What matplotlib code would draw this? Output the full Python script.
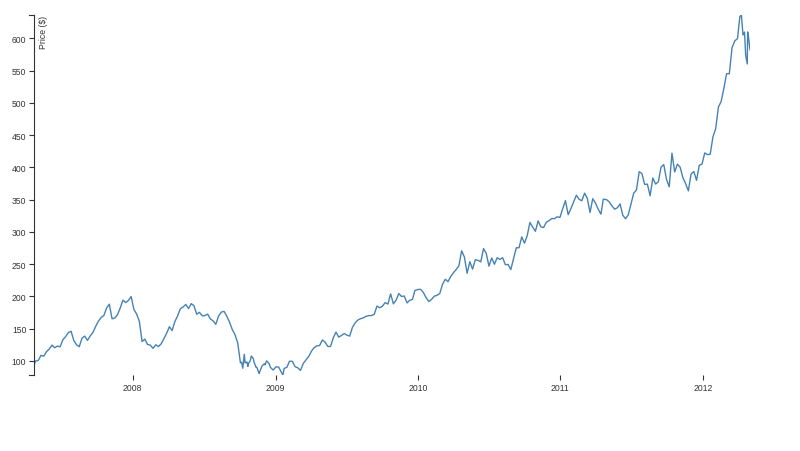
import matplotlib
matplotlib.use("Agg")
import matplotlib.pyplot as plt
import matplotlib.dates as mdates
import pandas as pd

plt.rcParams['font.family'] = ['Liberation Sans', 'DejaVu Sans']

# weekly closes (AAPL, Apr 2007 - May 2012)
dates = [
    "2007-04-23", "2007-04-27", "2007-05-04", "2007-05-11", "2007-05-18", "2007-05-25",
    "2007-06-01", "2007-06-08", "2007-06-15", "2007-06-22", "2007-06-29",
    "2007-07-06", "2007-07-13", "2007-07-20", "2007-07-27",
    "2007-08-03", "2007-08-10", "2007-08-17", "2007-08-24", "2007-08-31",
    "2007-09-07", "2007-09-14", "2007-09-21", "2007-09-28",
    "2007-10-05", "2007-10-12", "2007-10-19", "2007-10-26",
    "2007-11-02", "2007-11-09", "2007-11-16", "2007-11-23", "2007-11-30",
    "2007-12-07", "2007-12-14", "2007-12-21", "2007-12-28",
    "2008-01-04", "2008-01-11", "2008-01-18", "2008-01-23", "2008-01-25",
    "2008-02-01", "2008-02-08", "2008-02-15", "2008-02-22", "2008-02-29",
    "2008-03-07", "2008-03-14", "2008-03-20", "2008-03-28",
    "2008-04-04", "2008-04-11", "2008-04-18", "2008-04-25",
    "2008-05-02", "2008-05-09", "2008-05-16", "2008-05-23", "2008-05-30",
    "2008-06-06", "2008-06-13", "2008-06-20", "2008-06-27",
    "2008-07-03", "2008-07-11", "2008-07-18", "2008-07-25",
    "2008-08-01", "2008-08-08", "2008-08-15", "2008-08-22", "2008-08-29",
    "2008-09-05", "2008-09-12", "2008-09-19", "2008-09-26",
    "2008-10-03", "2008-10-06", "2008-10-09", "2008-10-13", "2008-10-15",
    "2008-10-17", "2008-10-20", "2008-10-22", "2008-10-24", "2008-10-28", "2008-10-31",
    "2008-11-05", "2008-11-07", "2008-11-12", "2008-11-14", "2008-11-20", "2008-11-21",
    "2008-11-28",
    "2008-12-03", "2008-12-05", "2008-12-09", "2008-12-12", "2008-12-16", "2008-12-19",
    "2008-12-26",
    "2009-01-02", "2009-01-09", "2009-01-16", "2009-01-20", "2009-01-23", "2009-01-30",
    "2009-02-06", "2009-02-13", "2009-02-20", "2009-02-27",
    "2009-03-06", "2009-03-13", "2009-03-20", "2009-03-27",
    "2009-04-03", "2009-04-09", "2009-04-17", "2009-04-24",
    "2009-05-01", "2009-05-08", "2009-05-15", "2009-05-22", "2009-05-29",
    "2009-06-05", "2009-06-12", "2009-06-19", "2009-06-26",
    "2009-07-03", "2009-07-10", "2009-07-17", "2009-07-24", "2009-07-31",
    "2009-08-07", "2009-08-14", "2009-08-21", "2009-08-28",
    "2009-09-04", "2009-09-11", "2009-09-18", "2009-09-25",
    "2009-10-02", "2009-10-09", "2009-10-16", "2009-10-23", "2009-10-30",
    "2009-11-06", "2009-11-13", "2009-11-20", "2009-11-27",
    "2009-12-04", "2009-12-11", "2009-12-18", "2009-12-24", "2009-12-31",
    "2010-01-08", "2010-01-15", "2010-01-22", "2010-01-29",
    "2010-02-05", "2010-02-12", "2010-02-19", "2010-02-26",
    "2010-03-05", "2010-03-12", "2010-03-19", "2010-03-26",
    "2010-04-01", "2010-04-09", "2010-04-16", "2010-04-23", "2010-04-30",
    "2010-05-07", "2010-05-14", "2010-05-21", "2010-05-28",
    "2010-06-04", "2010-06-11", "2010-06-18", "2010-06-25",
    "2010-07-02", "2010-07-09", "2010-07-16", "2010-07-23", "2010-07-30",
    "2010-08-06", "2010-08-13", "2010-08-20", "2010-08-27",
    "2010-09-03", "2010-09-10", "2010-09-17", "2010-09-24",
    "2010-10-01", "2010-10-08", "2010-10-15", "2010-10-22", "2010-10-29",
    "2010-11-05", "2010-11-12", "2010-11-19", "2010-11-26",
    "2010-12-03", "2010-12-10", "2010-12-17", "2010-12-23", "2010-12-31",
    "2011-01-07", "2011-01-14", "2011-01-21", "2011-01-28",
    "2011-02-04", "2011-02-11", "2011-02-18", "2011-02-25",
    "2011-03-04", "2011-03-11", "2011-03-18", "2011-03-25",
    "2011-04-01", "2011-04-08", "2011-04-15", "2011-04-21", "2011-04-29",
    "2011-05-06", "2011-05-13", "2011-05-20", "2011-05-27",
    "2011-06-03", "2011-06-10", "2011-06-17", "2011-06-24",
    "2011-07-01", "2011-07-08", "2011-07-15", "2011-07-22", "2011-07-29",
    "2011-08-05", "2011-08-12", "2011-08-19", "2011-08-26",
    "2011-09-02", "2011-09-09", "2011-09-16", "2011-09-23", "2011-09-30",
    "2011-10-07", "2011-10-14", "2011-10-21", "2011-10-28",
    "2011-11-04", "2011-11-11", "2011-11-18", "2011-11-25",
    "2011-12-02", "2011-12-09", "2011-12-16", "2011-12-23", "2011-12-30",
    "2012-01-06", "2012-01-13", "2012-01-20", "2012-01-27",
    "2012-02-03", "2012-02-10", "2012-02-17", "2012-02-24",
    "2012-03-02", "2012-03-09", "2012-03-16", "2012-03-23", "2012-03-30",
    "2012-04-05", "2012-04-09", "2012-04-10", "2012-04-13", "2012-04-17",
    "2012-04-20", "2012-04-24", "2012-04-25", "2012-04-27", "2012-05-01",
]
close = [
    93.2, 99.9, 100.8, 108.7, 107.3, 114.4,
    118.4, 124.5, 120.5, 123.0, 122.0,
    132.8, 137.7, 143.8, 146.0,
    131.8, 125.0, 122.1, 135.3, 138.5,
    131.8, 138.8, 144.2, 153.5,
    161.5, 167.3, 170.4, 182.0,
    187.9, 165.4, 166.4, 171.5, 182.2,
    194.3, 190.4, 193.9, 199.8,
    180.0, 172.7, 161.4, 139.1, 130.0,
    133.8, 125.5, 124.6, 119.5, 125.0,
    122.3, 126.6, 133.3, 143.0,
    153.1, 147.1, 161.0, 169.7,
    180.9, 183.5, 187.6, 181.2, 188.8,
    185.6, 172.4, 175.3, 170.1,
    170.1, 172.6, 165.2, 162.1,
    156.7, 169.6, 175.7, 176.8, 169.5,
    160.2, 148.9, 140.9, 128.2,
    97.1, 98.1, 88.7, 110.3, 97.0,
    97.4, 98.4, 91.5, 96.4, 99.9, 107.6,
    103.7, 98.2, 90.1, 90.2, 80.5, 82.6,
    92.7,
    95.4, 94.0, 100.1, 98.3, 95.4, 90.0,
    85.8,
    90.8, 90.6, 82.3, 78.2, 88.4, 90.1,
    99.7, 99.3, 91.2, 89.3,
    85.3, 95.9, 101.6, 106.9,
    115.0, 120.0, 123.4, 123.9,
    132.5, 129.2, 122.4, 122.5, 135.8,
    144.7, 136.9, 139.5, 142.4,
    140.0, 138.5, 151.8, 159.0, 163.4,
    165.5, 166.8, 169.2, 170.3,
    170.3, 172.2, 185.0, 182.4,
    184.9, 190.5, 188.1, 204.0, 188.5,
    194.3, 204.5, 199.9, 200.6,
    189.9, 194.0, 195.4, 209.0, 210.7,
    211.0, 205.9, 197.8, 192.1,
    195.5, 200.4, 201.7, 204.6,
    218.9, 226.6, 222.8, 230.9,
    236.0, 241.8, 247.4, 270.8, 261.1,
    235.9, 253.8, 242.3, 256.9,
    255.9, 253.5, 274.1, 266.7,
    246.9, 259.6, 249.9, 259.9, 257.3,
    260.1, 249.1, 249.6, 241.6,
    258.8, 275.4, 275.4, 292.3,
    282.5, 294.1, 314.7, 307.5, 301.0,
    317.1, 308.0, 306.7, 315.0,
    317.4, 320.6, 320.6, 323.3, 322.6,
    336.1, 348.5, 326.7, 336.1,
    346.5, 356.9, 350.6, 348.2,
    360.0, 352.0, 330.0, 351.5,
    344.6, 335.1, 327.5, 350.7, 350.1,
    346.7, 340.5, 335.2, 337.4,
    343.4, 325.9, 320.3, 326.4,
    343.3, 360.0, 364.9, 393.3, 390.5,
    373.6, 374.0, 356.0, 383.6,
    374.1, 377.5, 400.5, 404.3, 381.3,
    369.8, 422.0, 392.9, 405.0,
    400.2, 384.1, 374.9, 363.6,
    389.7, 393.6, 380.0, 403.3, 405.0,
    422.4, 419.8, 420.3, 447.3,
    459.7, 493.4, 502.1, 522.4,
    545.2, 545.2, 585.6, 596.1, 599.6,
    633.7, 636.2, 628.4, 605.2, 609.7,
    573.0, 560.3, 610.0, 603.0, 582.1,
]
year_ticks = ["2008", "2009", "2010", "2011", "2012"]
price_ticks = [100, 150, 200, 250, 300, 350, 400, 450, 500, 550, 600]

x = pd.to_datetime(dates)

fig = plt.figure(figsize=(8, 4.52), dpi=100)
ax = fig.add_axes([34 / 800, 1 - 376 / 452, (750 - 34) / 800, (376 - 16) / 452])

ax.plot(x, close, color='steelblue', lw=1.0, solid_joinstyle='round')
ax.set_xlim(x[0], x[-1])
ax.set_ylim(min(close), max(close))

ax.spines[['top', 'right', 'bottom']].set_visible(False)
ax.spines['left'].set_linewidth(0.8)
ax.spines['left'].set_color('#333')

ax.set_yticks(price_ticks)
ax.set_xticks(pd.to_datetime(year_ticks))
ax.xaxis.set_major_formatter(mdates.DateFormatter('%Y'))
ax.tick_params(axis='both', length=3.6, width=0.8, color='#333', labelsize=6.2,
               labelcolor='#333', pad=1.9)

# outer ticks at the ends of the y domain
ax.plot([-5 / 716, 0], [0, 0], transform=ax.transAxes, color='#333', lw=0.8, clip_on=False)
ax.plot([-5 / 716, 0], [1, 1], transform=ax.transAxes, color='#333', lw=0.8, clip_on=False)

ax.annotate("Price ($)", xy=(0, 1), xycoords='axes fraction', xytext=(3.8, 0),
            textcoords='offset points', rotation=90, ha='left', va='top',
            fontsize=6.2, color='#333')

fig.savefig("out.png", dpi=100)
